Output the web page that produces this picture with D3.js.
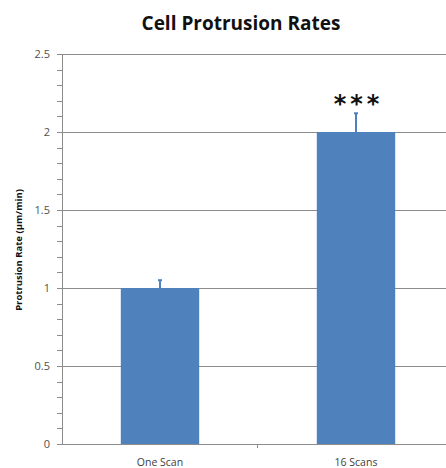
<!DOCTYPE html>
<html><head><meta charset="utf-8">
<script src="https://cdn.jsdelivr.net/npm/d3@7"></script>
<style>body{margin:0;background:#fff}svg{display:block}</style>
</head><body>
<script>
const categories = ["One Scan", "16 Scans"];
const values = [1.0, 2.0];
const errors = [0.05, 0.12];
const yTicks = [0, 0.5, 1, 1.5, 2, 2.5];
const yTickLabels = ["0", "0.5", "1", "1.5", "2", "2.5"];
const annotations = ["", "***"];

const W = 446, H = 468;
const svg = d3.select("body").append("svg").attr("width", W).attr("height", H);

const x = d3.scaleBand().domain(categories).range([62, 454]).paddingInner(0.6).paddingOuter(0.3);
const y = d3.scaleLinear().domain([0, 2.5]).range([444, 54]);

// gridlines
svg.append("g").selectAll("line").data(yTicks).join("line")
  .attr("x1", 62).attr("x2", W).attr("y1", d => y(d)).attr("y2", d => y(d))
  .attr("stroke", "#8c8c8c").attr("stroke-width", 1).attr("shape-rendering", "crispEdges");

// y axis
const yAxis = d3.axisLeft(y).tickValues(d3.range(0, 2.51, 0.1)).tickSize(5).tickFormat(() => "");
const ga = svg.append("g").attr("transform", "translate(62,0)").call(yAxis);
ga.select(".domain").attr("stroke", "#8c8c8c").attr("d", `M0,${y(0)}V${y(2.5)}`);
ga.selectAll(".tick line").attr("stroke", "#8c8c8c");
ga.attr("shape-rendering", "crispEdges");

svg.append("g").selectAll("text").data(yTicks).join("text")
  .attr("x", 50).attr("y", d => y(d)).attr("dy", "0.35em").attr("text-anchor", "end")
  .attr("font-family", "Open Sans, Liberation Sans, sans-serif").attr("font-size", 11).attr("fill", "#505050")
  .text((d, i) => yTickLabels[i]);

// x axis
svg.append("line").attr("x1", 62).attr("x2", 454).attr("y1", y(0)).attr("y2", y(0))
  .attr("stroke", "#8c8c8c").attr("shape-rendering", "crispEdges");
svg.append("line").attr("x1", 257.5).attr("x2", 257.5).attr("y1", y(0)).attr("y2", y(0) + 4)
  .attr("stroke", "#8c8c8c");

// bars
svg.append("g").selectAll("rect").data(values).join("rect")
  .attr("x", (d, i) => x(categories[i])).attr("width", x.bandwidth())
  .attr("y", d => y(d)).attr("height", d => y(0) - y(d))
  .attr("fill", "#4F81BD");

// error bars
const eg = svg.append("g").attr("stroke", "#4F81BD").attr("stroke-width", 2);
values.forEach((v, i) => {
  const cx = x(categories[i]) + x.bandwidth() / 2;
  eg.append("line").attr("x1", cx).attr("x2", cx).attr("y1", y(v)).attr("y2", y(v + errors[i]));
  eg.append("line").attr("x1", cx - 2).attr("x2", cx + 2).attr("y1", y(v + errors[i])).attr("y2", y(v + errors[i]));
});

// annotations
svg.append("g").selectAll("text").data(annotations).join("text")
  .attr("x", (d, i) => x(categories[i]) + x.bandwidth() / 2 + 2.5)
  .attr("y", (d, i) => y(values[i] + errors[i]) - 1)
  .attr("text-anchor", "middle").attr("font-family", "DejaVu Sans, sans-serif").attr("font-size", 24)
  .attr("font-weight", "bold").attr("letter-spacing", 4)
  .attr("fill", "#111").text(d => d);

// category labels
svg.append("g").selectAll("text").data(categories).join("text")
  .attr("x", d => x(d) + x.bandwidth() / 2).attr("y", 466).attr("text-anchor", "middle")
  .attr("font-family", "Open Sans, Liberation Sans, sans-serif").attr("font-size", 10.5).attr("fill", "#404040")
  .text(d => d);

// title
svg.append("text").attr("x", 241).attr("y", 30).attr("text-anchor", "middle")
  .attr("font-family", "Open Sans, Liberation Sans, sans-serif").attr("font-weight", "bold").attr("font-size", 19)
  .attr("fill", "#111").text("Cell Protrusion Rates");

// y label
svg.append("text").attr("transform", "translate(22,250) rotate(-90)").attr("text-anchor", "middle")
  .attr("font-family", "Open Sans, Liberation Sans, sans-serif").attr("font-weight", "bold").attr("font-size", 9.5)
  .attr("fill", "#111").text("Protrusion Rate (µm/min)");
</script>
</body></html>
